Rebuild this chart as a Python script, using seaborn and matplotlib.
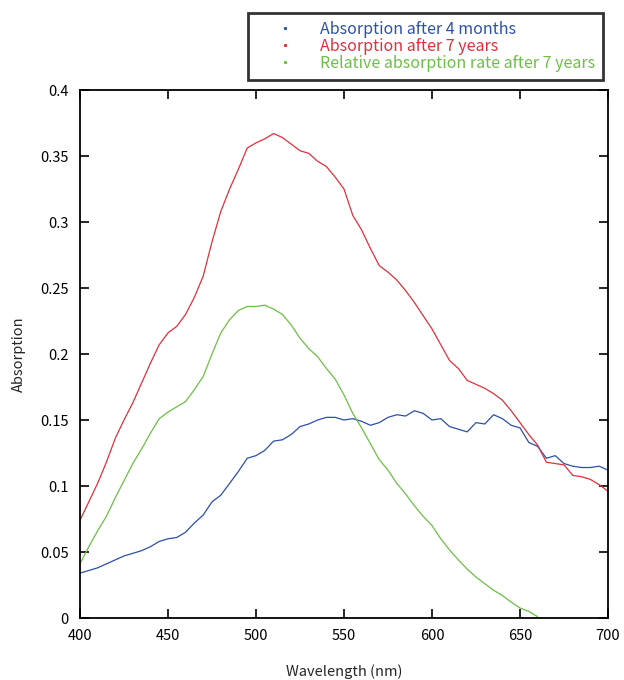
import numpy as np
import pandas as pd
import matplotlib
matplotlib.use("Agg")
import matplotlib.pyplot as plt
from matplotlib.lines import Line2D
import seaborn as sns

wavelength = list(range(400, 701, 5))

absorb_4_months = [0.034, 0.036, 0.038, 0.041, 0.044, 0.047, 0.049, 0.051, 0.054, 0.058,
                   0.060, 0.061, 0.065, 0.072, 0.078, 0.088, 0.093, 0.102, 0.111, 0.121,
                   0.123, 0.127, 0.134, 0.135, 0.139, 0.145, 0.147, 0.150, 0.152, 0.152,
                   0.150, 0.151, 0.149, 0.146, 0.148, 0.152, 0.154, 0.153, 0.157, 0.155,
                   0.150, 0.151, 0.145, 0.143, 0.141, 0.148, 0.147, 0.154, 0.151, 0.146,
                   0.144, 0.133, 0.130, 0.121, 0.123, 0.117, 0.115, 0.114, 0.114, 0.115,
                   0.112]

absorb_7_years = [0.074, 0.088, 0.102, 0.118, 0.136, 0.150, 0.163, 0.178, 0.193, 0.207,
                  0.216, 0.221, 0.230, 0.243, 0.259, 0.285, 0.308, 0.325, 0.340, 0.356,
                  0.360, 0.363, 0.367, 0.364, 0.359, 0.354, 0.352, 0.346, 0.342, 0.334,
                  0.325, 0.305, 0.294, 0.280, 0.267, 0.262, 0.256, 0.248, 0.239, 0.229,
                  0.219, 0.207, 0.195, 0.189, 0.180, 0.177, 0.174, 0.170, 0.165, 0.157,
                  0.148, 0.139, 0.131, 0.118, 0.117, 0.116, 0.108, 0.107, 0.105, 0.101,
                  0.096]

wavelength_rel = list(range(400, 661, 5))
relative_7_years = [0.041, 0.054, 0.066, 0.077, 0.091, 0.104, 0.117, 0.128, 0.140, 0.151,
                    0.156, 0.160, 0.164, 0.173, 0.183, 0.200, 0.216, 0.226, 0.233, 0.236,
                    0.236, 0.237, 0.234, 0.230, 0.222, 0.212, 0.204, 0.198, 0.189, 0.181,
                    0.169, 0.155, 0.144, 0.132, 0.120, 0.112, 0.102, 0.094, 0.085, 0.077,
                    0.070, 0.060, 0.0515, 0.044, 0.037, 0.031, 0.026, 0.021, 0.017, 0.012,
                    0.0076, 0.005, 0.001]

labels = ["Absorption after 4 months", "Absorption after 7 years",
          "Relative absorption rate after 7 years"]
colors = ["#2b50a8", "#e0303a", "#6cbf45"]

x_ticks = [400, 450, 500, 550, 600, 650, 700]
y_ticks = [0, 0.05, 0.1, 0.15, 0.2, 0.25, 0.3, 0.35, 0.4]
y_tick_labels = ["0", "0.05", "0.1", "0.15", "0.2", "0.25", "0.3", "0.35", "0.4"]

df = pd.concat([
    pd.DataFrame({"Wavelength": wavelength, "Absorption": absorb_4_months, "series": labels[0]}),
    pd.DataFrame({"Wavelength": wavelength, "Absorption": absorb_7_years, "series": labels[1]}),
    pd.DataFrame({"Wavelength": wavelength_rel, "Absorption": relative_7_years, "series": labels[2]}),
], ignore_index=True)

sns.set_style("ticks")
plt.rcParams["font.family"] = ["Noto Sans CJK JP", "DejaVu Sans"]

fig = plt.figure(figsize=(6.24, 6.8), dpi=100)
ax = fig.add_axes([80 / 624, 62 / 680, 528 / 624, 528 / 680])

sns.lineplot(data=df, x="Wavelength", y="Absorption", hue="series",
             palette=dict(zip(labels, colors)), linewidth=0.9, legend=False, ax=ax,
             sort=True)

ax.set_xlim(400, 700)
ax.set_ylim(0, 0.4)
ax.set_xticks(x_ticks)
ax.set_yticks(y_ticks)
ax.set_yticklabels(y_tick_labels)
ax.tick_params(direction="in", length=6.5, width=1.2, top=True, right=True,
               labelsize=10.5, colors="black", pad=8)
for s in ax.spines.values():
    s.set_linewidth(1.3)
    s.set_color("black")
ax.set_xlabel("Wavelength (nm)", fontsize=10.5, labelpad=15)
ax.set_ylabel("Absorption", fontsize=10.5, labelpad=10)

handles = [Line2D([], [], linestyle="none", marker="s", markersize=1.2,
                  markerfacecolor=c, markeredgecolor=c) for c in colors]
leg = fig.legend(handles, labels, loc="upper right",
                 bbox_to_anchor=(603 / 624, 1 - 13 / 680),
                 fontsize=11.5, frameon=True, fancybox=False, edgecolor="black",
                 handlelength=3.6, handletextpad=0.4, borderpad=0.5,
                 labelspacing=0.0, borderaxespad=0)
leg.get_frame().set_linewidth(2.0)
for t, c in zip(leg.get_texts(), colors):
    t.set_color(c)

fig.savefig("out.png", dpi=100)
